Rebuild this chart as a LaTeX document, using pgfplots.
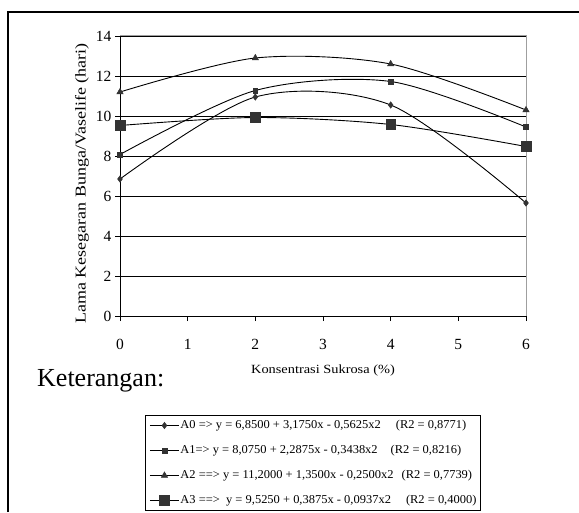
\documentclass[border=0pt]{standalone}
\usepackage{fontspec}
\setmainfont{Liberation Serif}
\newfontfamily\stretchfont{Liberation Serif}[FakeStretch=1.2]
\newfontfamily\xstretchfont{Liberation Serif}[FakeStretch=1.15]
\newfontfamily\legfont{Liberation Serif}[FakeStretch=1.04]
\usepackage{pgfplots}
\pgfplotsset{compat=1.18}
\definecolor{mk}{HTML}{333333}
\begin{document}
\begin{tikzpicture}[x=1pt,y=1pt]
\path[use as bounding box] (0,0) rectangle (579,512);
\draw[line width=1.3pt] (8,0) -- (8,500) -- (579,500);
\node[anchor=base west, inner sep=0pt, font=\fontsize{26}{30}\selectfont] at (37,125) {Keterangan:};
\begin{axis}[
  at={(120pt,196pt)}, anchor=south west,
  scale only axis, width=406pt, height=280pt,
  xmin=0, xmax=6, ymin=0, ymax=14,
  xtick={0,1,2,3,4,5,6}, ytick={0,2,4,6,8,10,12,14},
  axis lines*=left,
  axis line style={black, line width=0.9pt},
  ymajorgrids, grid style={black, line width=0.8pt},
  tick style={black, line width=0.9pt}, tick align=outside, major tick length=5pt,
  /pgf/number format/assume math mode=true,
  ticklabel style={font=\fontsize{15.5}{18}\selectfont},
  xticklabel style={yshift=-15pt},
  xlabel={Konsentrasi Sukrosa (\%)},
  xlabel style={at={(axis description cs:0.5,-0.193)}, anchor=center, font=\xstretchfont\fontsize{12.5}{15}\selectfont},
  ylabel={Lama Kesegaran Bunga/Vaselife (hari)},
  ylabel style={at={(axis description cs:-0.0936,-0.04)}, anchor=west, rotate=0, font=\stretchfont\fontsize{15}{18}\selectfont},
  clip=false,
  every axis plot/.append style={line width=0.9pt, black, smooth, tension=0.5},
  legend style={at={(axis description cs:0.0616,-0.3536)}, anchor=north west,
    draw=black, line width=1pt, inner xsep=4pt, inner ysep=4.5pt,
    row sep=14pt, column sep=1pt,
    nodes={inner sep=0pt, text height=8.5pt, text depth=2.5pt, font=\legfont\fontsize{12}{14}\selectfont}},
  legend cell align=left,
  legend image code/.code={\draw[mark repeat=2,mark phase=2,#1] plot coordinates {(0pt,0pt) (14.5pt,0pt) (29pt,0pt)};},
]
\draw[gray!75, line width=1pt] (rel axis cs:0,1) -- (rel axis cs:1,1) -- (rel axis cs:1,0);
\addplot[mark=diamond*, mark size=3.2pt, mark options={fill=mk, draw=mk, line width=0.5pt}]
  coordinates {(0,6.85) (2,10.95) (4,10.55) (6,5.65)};
\addlegendentry{A0 => y = 6,8500 + 3,1750x - 0,5625x2\hspace{15pt}(R2 = 0,8771)}
\addplot[mark=square*, mark size=2.4pt, mark options={fill=mk, draw=mk, line width=0.5pt}]
  coordinates {(0,8.075) (2,11.275) (4,11.725) (6,9.45)};
\addlegendentry{A1=> y = 8,0750 + 2,2875x - 0,3438x2\hspace{13pt}(R2 = 0,8216)}
\addplot[mark=triangle*, mark size=3.6pt, mark options={fill=mk, draw=mk, line width=0.5pt}]
  coordinates {(0,11.2) (2,12.9) (4,12.6) (6,10.3)};
\addlegendentry{A2 ==> y = 11,2000 + 1,3500x - 0,2500x2\hspace{8pt}(R2 = 0,7739)}
\addplot[mark=square*, mark size=4.8pt, mark options={fill=mk, draw=mk, line width=0.5pt}]
  coordinates {(0,9.525) (2,9.925) (4,9.575) (6,8.475)};
\addlegendentry{A3 ==>\ \ y = 9,5250 + 0,3875x - 0,0937x2\hspace{15pt}(R2 = 0,4000)}
\end{axis}
\end{tikzpicture}
\end{document}
